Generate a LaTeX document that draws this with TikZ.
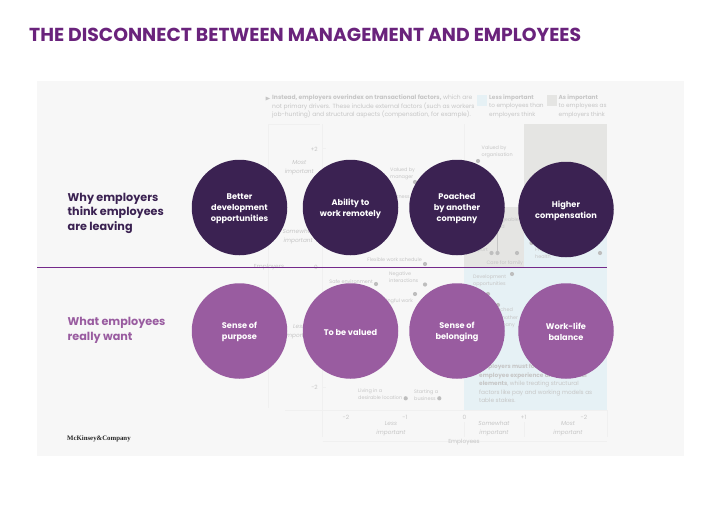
\documentclass[tikz,border=0pt]{standalone}
\usepackage{fontspec}
\setmainfont{Poppins}
\newfontfamily\logofont{Liberation Serif}
\definecolor{panel}{HTML}{F7F7F7}
\definecolor{dark}{HTML}{3B2252}
\definecolor{mid}{HTML}{995CA0}
\definecolor{titlec}{HTML}{6A237C}
\definecolor{rulec}{HTML}{74298A}
\definecolor{faint}{HTML}{C6C6C6}
\definecolor{dotc}{HTML}{BEBEBE}
\definecolor{greyz}{HTML}{E5E5E3}
\definecolor{bluez}{HTML}{E6F1F5}
\definecolor{gridc}{HTML}{F0F0F0}
\tikzset{
 x=1pt,y=-1pt,
 circ/.style={circle,minimum size=95.5pt,inner sep=0pt},
 darkc/.style={circ,fill=dark},
 midc/.style={circ,fill=mid},
 ctext/.style={inner sep=0pt,text=white,align=center,font=\fontsize{8.2}{11}\selectfont\bfseries,yshift=-1.2pt},
 lab/.style={anchor=west,inner sep=0pt,align=left,font=\fontsize{11.2}{14.8}\selectfont\bfseries},
 tiny/.style={inner sep=0pt,text=faint,align=left,anchor=west,font=\fontsize{4.9}{7.3}\selectfont},
 ax/.style={inner sep=0pt,text=faint,align=center,font=\fontsize{5.8}{9}\selectfont},
 axi/.style={ax,font=\fontsize{5.8}{9}\selectfont\itshape},
 note/.style={inner sep=0pt,text=faint,align=left,anchor=north west,font=\fontsize{5.8}{8.6}\selectfont},
 dotm/.style={circle,fill=dotc,minimum size=4.2pt,inner sep=0pt},
 grid/.style={draw=gridc,line width=.5pt},
}
\begin{document}
\begin{tikzpicture}
\useasboundingbox (0,0) rectangle (720,506);
\fill[white] (0,0) rectangle (720,506);
\fill[panel] (37,81) rectangle (684,456);
% zones
\fill[greyz] (524,124) rectangle (607,207);
\fill[greyz] (464,207) rectangle (524,267);
\fill[bluez] (524,207) rectangle (607,267);
\fill[bluez] (464,267) rectangle (607,410);
\fill[bluez] (477,95) rectangle (487,106);
\fill[greyz] (547,95) rectangle (557,106);
% grid
\draw[grid] (268,124) -- (268,408);
\draw[grid] (322.5,124) -- (322.5,437);
\draw[grid] (464,124) -- (464,207);
\draw[grid] (464,422) -- (464,437);
\draw[grid] (524,422) -- (524,437);
\draw[grid] (607,410) -- (607,437);
\draw[grid] (285,410) -- (607,410);
\draw[grid] (322.5,441) -- (607,441);
\draw[grid] (268,124) -- (320,124);
\draw[grid] (322.5,148) -- (326,148);
\draw[grid] (322.5,387) -- (326,387);
\node[note,font=\fontsize{6}{8.6}\selectfont] (n1) at (272,94.5) {\textbf{Instead, employers overindex on transactional factors,} which are\\not primary drivers. These include external factors (such as workers\\job-hunting) and structural aspects (compensation, for example).};
\fill[faint] (265.5,96.5) -- (270,98.5) -- (265.5,100.5) -- cycle;
\node[note] (n2) at (489,94.5) {\textbf{Less important}\\to employees than\\employers think};
\node[note] (n3) at (558.5,94.5) {\textbf{As important}\\to employees as\\employers think};
\node[note,font=\fontsize{5.8}{8.5}\selectfont] (n4) at (479,364) {\textbf{Employers must focus on}\\\textbf{employee experience and relational}\\\textbf{elements}, while treating structural\\factors like pay and working models as\\table stakes.};
% axis text
\node[ax,anchor=east] (a1) at (318,149) {+2};
\node[ax,anchor=east] (a2) at (318,267) {0};
\node[ax,anchor=east] (a3) at (318,387) {-2};
\node[axi,anchor=east] (a4) at (314,168) {Most\\important};
\node[axi,anchor=east] (a5) at (314,237) {Somewhat\\important};
\node[axi,anchor=east] (a6) at (314,332) {Less\\important};
\node[ax] (a7) at (269,267.5) {Employers};
\node[ax] (b1) at (346,417.5) {-2};
\node[ax] (b2) at (405,417.5) {-1};
\node[ax] (b3) at (464.5,417.5) {0};
\node[ax] (b4) at (523.5,417.5) {+1};
\node[ax] (b5) at (584,417.5) {-2};
\node[axi] (b6) at (391,429) {Less\\important};
\node[axi] (b7) at (494,429) {Somewhat\\important};
\node[axi] (b8) at (568,429) {Most\\important};
\node[ax] (b9) at (464,442.5) {Employees};
% dots & labels
\node[dotm] (d1) at (478,161) {};
\node[tiny] (l1) at (481.5,152) {Valued by\\organisation};
\node[dotm] (d2) at (415,182) {};
\node[tiny] (l2) at (390,174) {Valued by\\manager};
\node[tiny,anchor=east] (l2b) at (410,197) {Fairness};
\node[dotm] (d3) at (425,264) {};
\node[tiny,anchor=east] (l3) at (422,259.5) {Flexible work schedule};
\node[dotm] (d4) at (376,284) {};
\node[tiny,anchor=east] (l4) at (373,281.5) {Safe environment};
\node[dotm] (d5) at (425,284.5) {};
\node[tiny] (l5) at (389,277) {Negative\\interactions};
\node[dotm] (d6) at (415,294) {};
\node[tiny,anchor=east] (l6) at (413,301) {Meaningful work};
\node[dotm] (d7) at (491.5,253) {};
\node[dotm] (d8) at (497.5,253) {};
\node[dotm] (d9) at (517,253) {};
\coordinate (v1) at (497.5,230);
\draw[faint,line width=.3pt] (v1) -- (d8);
\node[tiny,anchor=east] (l7a) at (519,220) {Manageable};
\node[tiny,anchor=east] (l7b) at (505,227) {workload};
\node[tiny,anchor=east] (l7c) at (488,250) {Support};
\node[tiny] (l7) at (486.5,263) {Care for family};
\node[dotm] (d10) at (512,274) {};
\node[tiny] (l8) at (473,281) {Development\\opportunities};
\node[dotm] (d14) at (488,294) {};
\node[dotm] (d15) at (498,305) {};
\node[dotm] (d16) at (531.5,243) {};
\node[dotm] (d11) at (600,253) {};
\node[tiny] (l9) at (535,253.5) {Physical and mental\\health};
\node[dotm] (d12) at (405.7,398.3) {};
\node[tiny] (l10) at (358,394) {Living in a\\desirable location};
\node[dotm] (d13) at (439.3,398.3) {};
\node[tiny] (l11) at (414,395) {Starting a\\business};
\node[tiny] (l12) at (491,318) {Poached\\by another\\company};
% title
\node[inner sep=0pt,anchor=west,text=titlec,font=\fontsize{18.8}{22}\selectfont\bfseries] (title) at (29,35) {THE DISCONNECT BETWEEN MANAGEMENT AND EMPLOYEES};
\node[inner sep=0pt,anchor=west,font=\logofont\fontsize{6.8}{8}\selectfont\bfseries,text=black!85] (logo) at (67,438.5) {McKinsey\&Company};
% divider
\coordinate (h1) at (37,267.5); \coordinate (h2) at (607,267.5);
\draw[rulec,line width=1pt] (h1) -- (h2);
% labels
\node[lab,text=dark] (w1) at (67.5,213.3) {Why employers\\think employees\\are leaving};
\node[lab,text=mid] (w2) at (67.5,330) {What employees\\really want};
% circles
\node[darkc,label={[ctext]center:Better\\development\\opportunities}] (c1) at (239.5,207.5) {};
\node[darkc,label={[ctext]center:Ability to\\work remotely}] (c2) at (350.5,207.5) {};
\node[darkc,label={[ctext]center:Poached\\by another\\company}] (c3) at (457,207.5) {};
\node[darkc,label={[ctext]center:Higher\\compensation}] (c4) at (566,209.5) {};
\node[midc,label={[ctext]center:Sense of\\purpose}] (c5) at (239.5,331) {};
\node[midc,label={[ctext]center:To be valued}] (c6) at (350.5,331) {};
\node[midc,label={[ctext]center:Sense of\\belonging}] (c7) at (457,331) {};
\node[midc,label={[ctext]center:Work-life\\balance}] (c8) at (566,331) {};
\end{tikzpicture}
\end{document}
